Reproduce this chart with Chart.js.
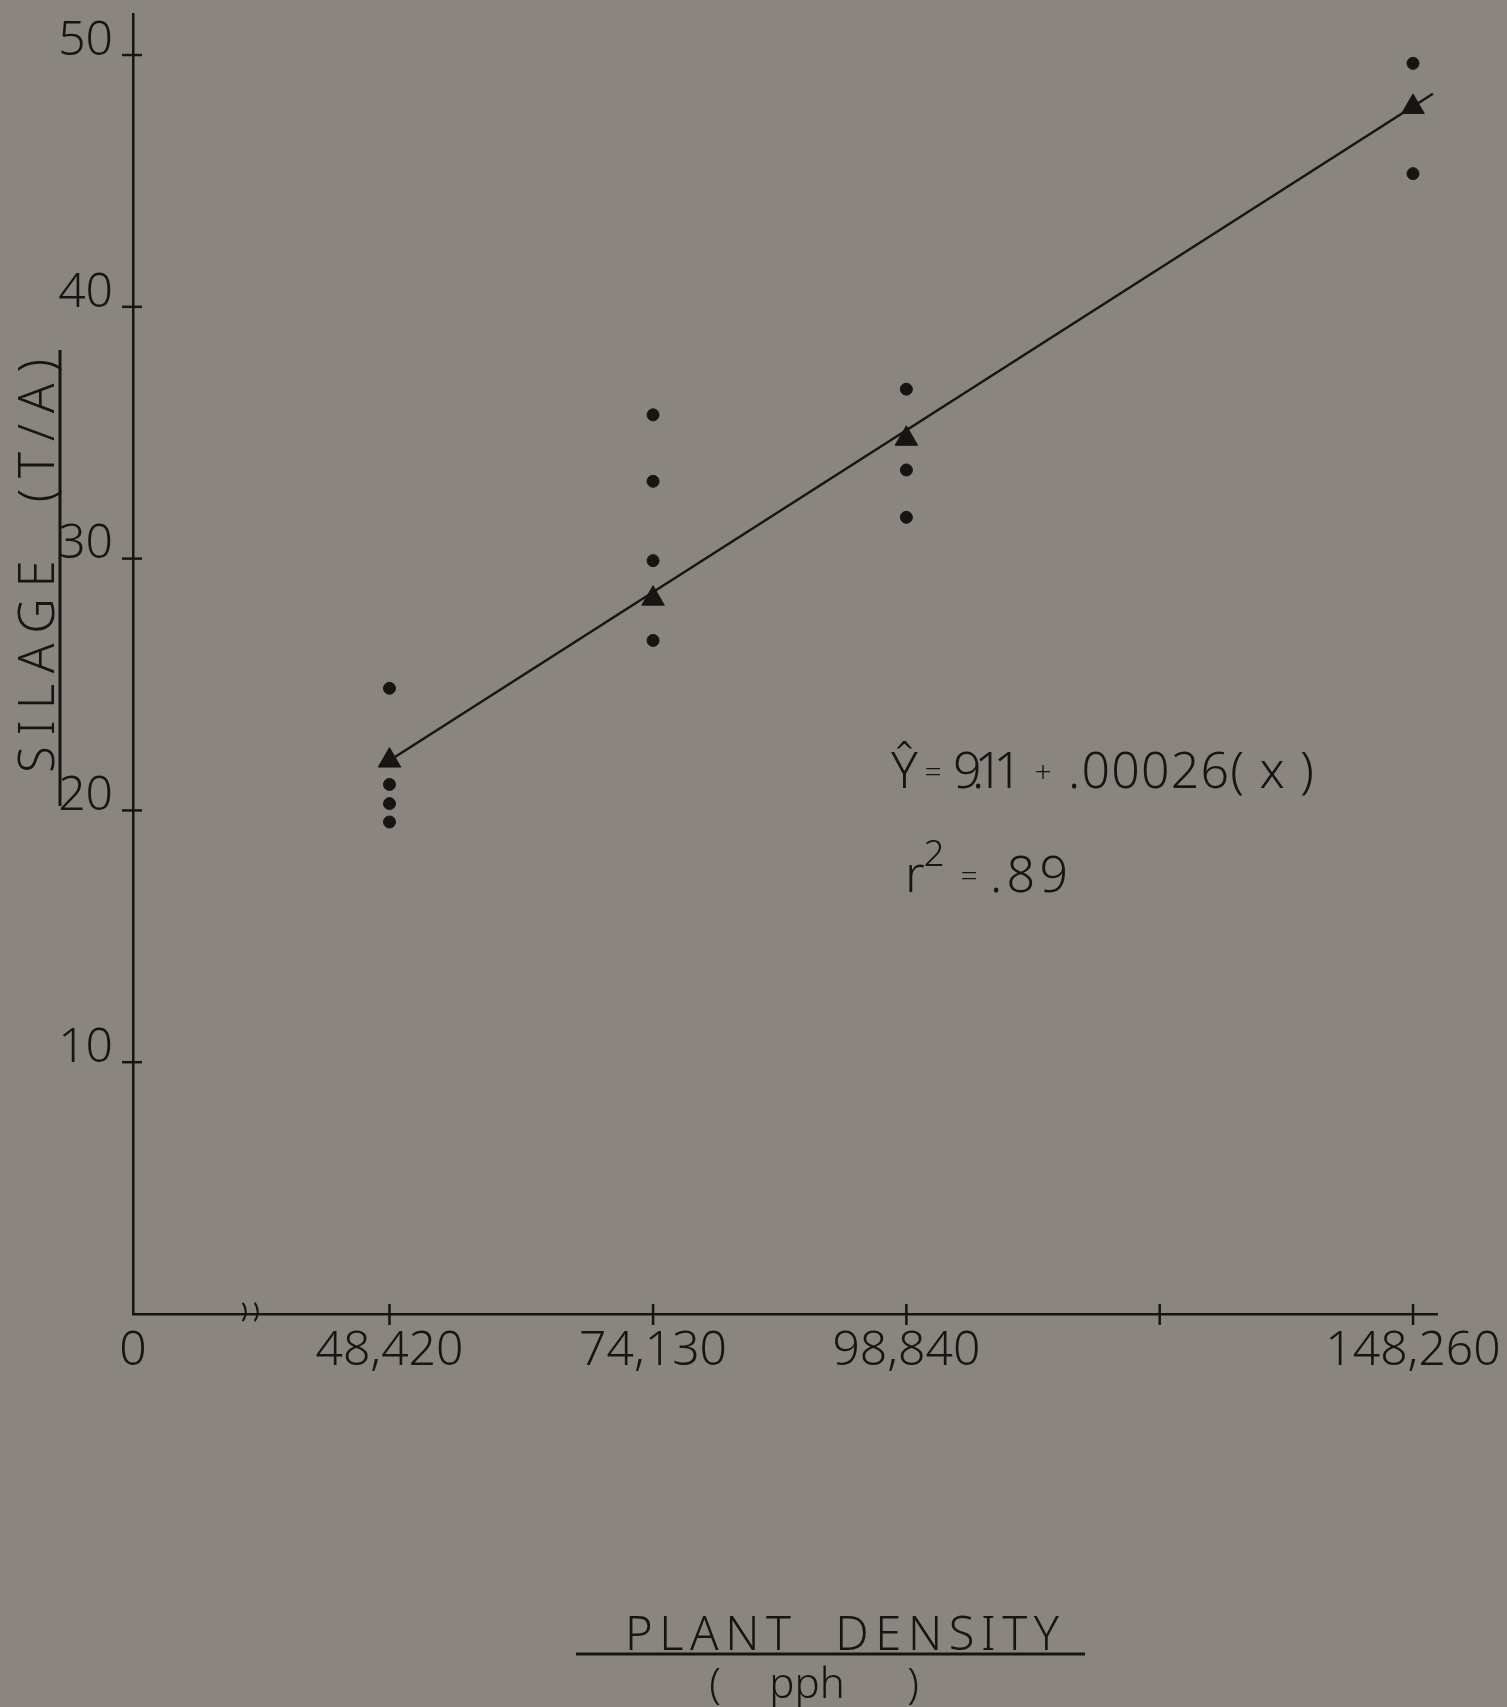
<!DOCTYPE html>
<html>
<head>
<meta charset="utf-8">
<script src="https://cdn.jsdelivr.net/npm/chart.js@4.4.1/dist/chart.umd.min.js"></script>
<style>
  html, body { margin: 0; padding: 0; background: #8a857e; }
  canvas { display: block; }
</style>
</head>
<body>
<canvas id="silageChart" width="1507" height="1707"></canvas>
<script>
// Silage yield vs plant density
const densities = [48420, 74130, 98840, 148260];
const meanYield = [21.98, 28.41, 34.76, 47.94];           // triangles
const plotX = [48420, 48420, 48420, 48420,
               74130, 74130, 74130, 74130,
               98840, 98840, 98840,
               148260, 148260];
const plotYield = [24.85, 21.03, 20.27, 19.54,
                   35.71, 33.07, 29.92, 26.75,
                   36.73, 33.52, 31.64,
                   49.67, 45.29];                           // dots
const fitX = [48420, 150200];
const fitYield = [21.98, 48.46];

const xTickValues = [23400, 48420, 74130, 98840, 123550, 148260];
const xTickLabels = ['0', '48,420', '74,130', '98,840', '', '148,260'];
const yTickValues = [10, 20, 30, 40, 50];
const yTickLabels = ['10', '20', '30', '40', '50'];

const INK = '#161514';
const BG = '#8a857e';
const FONT = '"Noto Sans", Lato, "DejaVu Sans", sans-serif';

document.addEventListener('DOMContentLoaded', function() {
    const canvas = document.getElementById('silageChart');
    const ctx = canvas.getContext('2d');

    const toPoints = (xs, ys) => xs.map((x, i) => ({ x: x, y: ys[i] }));

    // draw text spread out so it runs from x0 to x1
    function spreadText(c, text, x0, x1, y) {
        c.letterSpacing = '0px';
        const w = c.measureText(text).width;
        const gap = text.length > 1 ? (x1 - x0 - w) / (text.length - 1) : 0;
        c.letterSpacing = gap + 'px';
        c.textAlign = 'left';
        c.fillText(text, x0, y);
        c.letterSpacing = '0px';
    }

    // background, tick crosses, titles and the fitted equation
    const decorations = {
        id: 'decorations',
        beforeDraw(chart) {
            const c = chart.ctx;
            c.save();
            c.fillStyle = BG;
            c.fillRect(0, 0, chart.width, chart.height);
            c.restore();
        },
        afterDraw(chart) {
            const c = chart.ctx;
            const xs = chart.scales.x, ys = chart.scales.y;
            const area = chart.chartArea;
            c.save();
            c.strokeStyle = INK;
            c.fillStyle = INK;
            c.lineWidth = 2.5;

            // y ticks: small crosses on the axis
            yTickValues.forEach(v => {
                const py = ys.getPixelForValue(v);
                c.beginPath();
                c.moveTo(area.left - 11, py);
                c.lineTo(area.left + 9, py);
                c.stroke();
            });
            // x ticks
            xTickValues.slice(1).forEach(v => {
                const px = xs.getPixelForValue(v);
                c.beginPath();
                c.moveTo(px, area.bottom - 10);
                c.lineTo(px, area.bottom + 11);
                c.stroke();
            });
            // axis break marks
            const bx = xs.getPixelForValue(34300);
            c.lineWidth = 2;
            [0, 12].forEach(dx => {
                c.beginPath();
                c.arc(bx + dx - 14, area.bottom - 2, 15, -0.65, 0.65);
                c.stroke();
            });

            // y title, rotated, with its rule
            c.font = '300 49px ' + FONT;
            c.textBaseline = 'alphabetic';
            c.save();
            c.translate(54, 566);
            c.rotate(-Math.PI / 2);
            spreadText(c, 'SILAGE  (T/A)', -207, 207, 0);
            c.restore();
            c.lineWidth = 3;
            c.beginPath();
            c.moveTo(60, 350);
            c.lineTo(60, 806);
            c.stroke();

            // x title
            c.font = '300 47px ' + FONT;
            spreadText(c, 'PLANT  DENSITY', 625, 1059, 1650);
            c.beginPath();
            c.moveTo(576, 1654);
            c.lineTo(1085, 1654);
            c.stroke();
            c.font = '300 42px ' + FONT;
            c.textAlign = 'center';
            c.fillText('(', 715, 1698);
            c.fillText('pph', 807, 1698);
            c.fillText(')', 913, 1698);

            // regression equation
            c.font = '300 50px ' + FONT;
            spreadText(c, '\u0176', 891, 916, 788);
            spreadText(c, '9.11', 953, 1022, 788);
            spreadText(c, '.00026( x )', 1068, 1314, 788);
            spreadText(c, 'r', 905, 926, 892);
            spreadText(c, '.89', 990, 1068, 892);
            c.font = '300 30px ' + FONT;
            c.textAlign = 'center';
            c.fillText('=', 933, 782);
            c.fillText('+', 1043, 782);
            c.fillText('=', 969, 886);
            c.font = '300 37px ' + FONT;
            c.fillText('2', 934, 866);
            c.restore();
        }
    };

    const chart = new Chart(ctx, {
        type: 'scatter',
        data: {
            datasets: [
                {
                    label: 'fit',
                    data: toPoints(fitX, fitYield),
                    showLine: true,
                    borderColor: INK,
                    borderWidth: 2.5,
                    pointRadius: 0,
                    order: 3
                },
                {
                    label: 'plots',
                    data: toPoints(plotX, plotYield),
                    pointStyle: 'circle',
                    pointRadius: 6,
                    backgroundColor: INK,
                    borderColor: INK,
                    borderWidth: 1,
                    order: 2
                },
                {
                    label: 'means',
                    data: toPoints(densities, meanYield),
                    pointStyle: 'triangle',
                    pointRadius: 13,
                    backgroundColor: INK,
                    borderColor: INK,
                    borderWidth: 1,
                    order: 1
                }
            ]
        },
        options: {
            responsive: false,
            animation: false,
            layout: { padding: { top: 13, right: 70, bottom: 0, left: 0 } },
            plugins: {
                legend: { display: false },
                tooltip: { enabled: false }
            },
            scales: {
                x: {
                    type: 'linear',
                    min: 23400,
                    max: 150600,
                    afterFit: function(s) {
                        s.height = 1707 - 1314;
                        s.paddingLeft = 0;
                        s.paddingRight = 0;
                    },
                    afterBuildTicks: function(s) {
                        s.ticks = xTickValues.map(v => ({ value: v }));
                    },
                    ticks: {
                        autoSkip: false,
                        maxRotation: 0,
                        padding: 9,
                        color: INK,
                        font: { family: FONT, size: 48, weight: '300' },
                        callback: function(value) {
                            const i = xTickValues.indexOf(value);
                            return i >= 0 ? xTickLabels[i] : '';
                        }
                    },
                    grid: { display: false, drawTicks: false },
                    border: { display: true, color: INK, width: 2.5 }
                },
                y: {
                    min: 0,
                    max: 51.63,
                    afterFit: function(s) {
                        s.width = 133;
                        s.paddingTop = 0;
                        s.paddingBottom = 0;
                    },
                    afterBuildTicks: function(s) {
                        s.ticks = yTickValues.map(v => ({ value: v }));
                    },
                    ticks: {
                        autoSkip: false,
                        padding: 20,
                        labelOffset: -14,
                        color: INK,
                        font: { family: FONT, size: 48, weight: '300' },
                        callback: function(value) {
                            const i = yTickValues.indexOf(value);
                            return i >= 0 ? yTickLabels[i] : '';
                        }
                    },
                    grid: { display: false, drawTicks: false },
                    border: { display: true, color: INK, width: 2.5 }
                }
            }
        },
        plugins: [decorations]
    });
});
</script>
</body>
</html>
